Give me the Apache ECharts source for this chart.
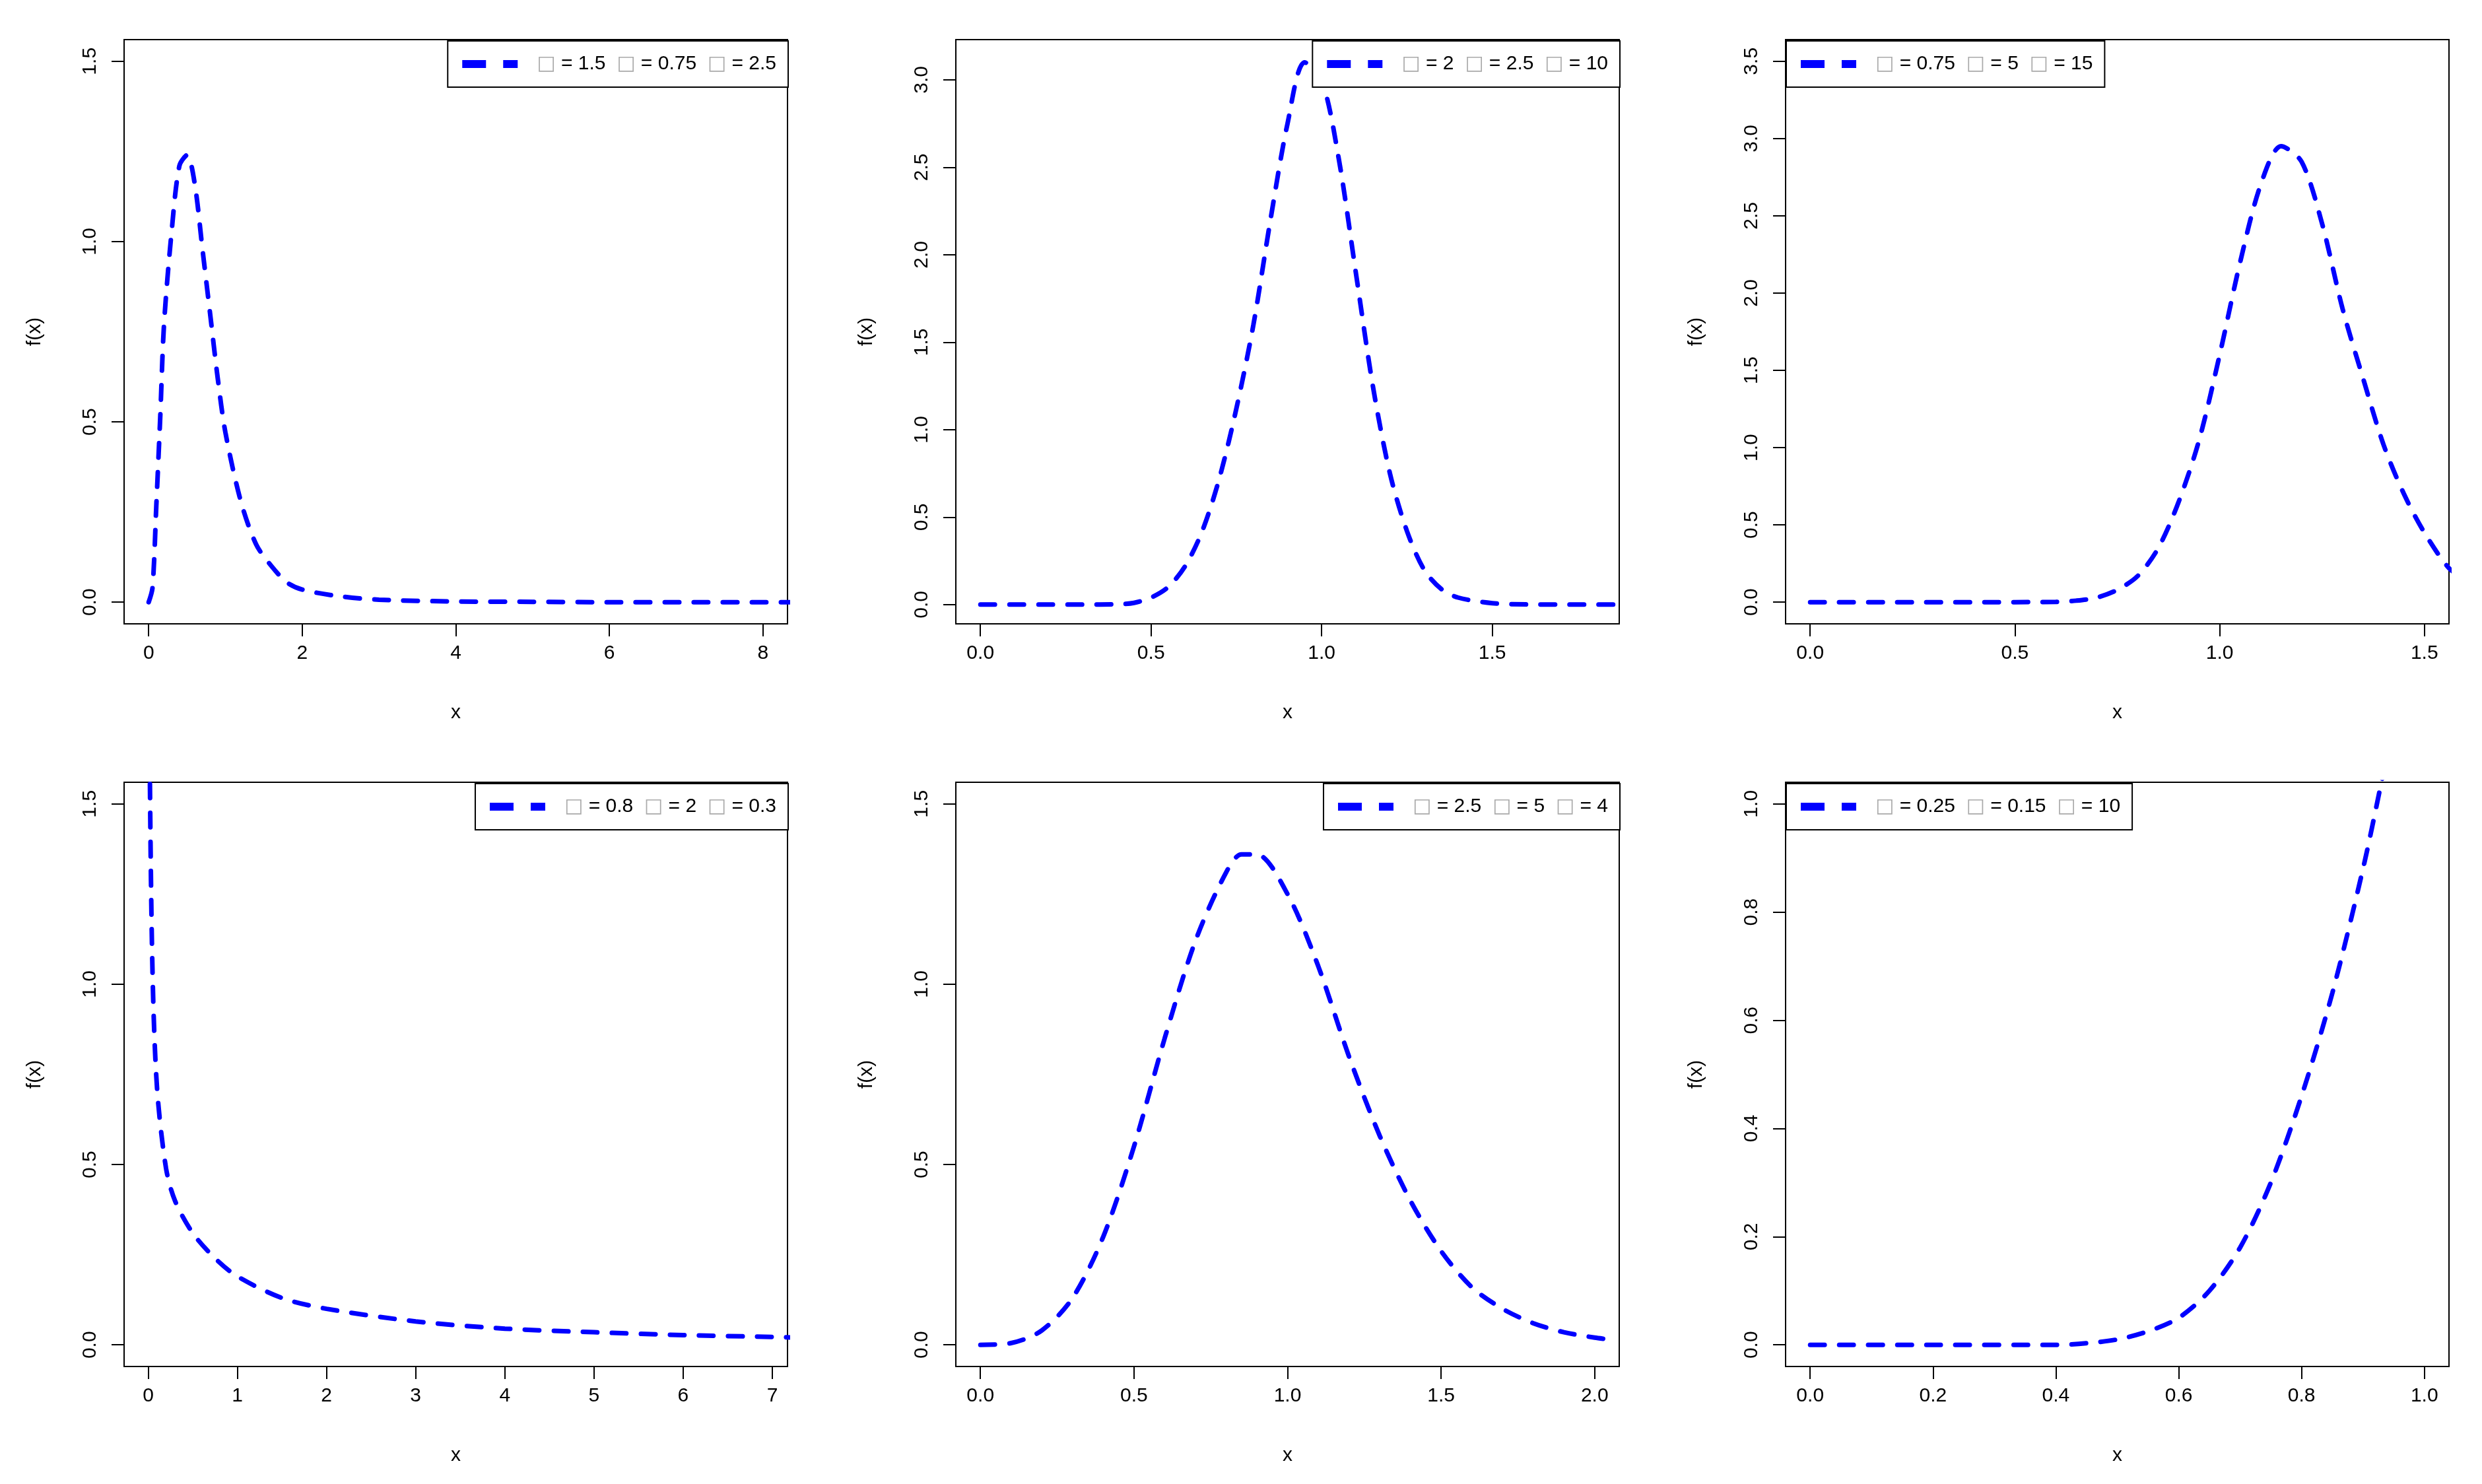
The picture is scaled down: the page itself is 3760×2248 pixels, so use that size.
<!DOCTYPE html>
<html>
<head>
<meta charset="utf-8">
<script src="https://cdn.jsdelivr.net/npm/echarts@6/dist/echarts.min.js"></script>
<style>
  html, body { margin: 0; padding: 0; background: #fff; }
  #chart { width: 3760px; height: 2248px; }
</style>
</head>
<body>
<div id="chart"></div>
<script>
// 各面板的数据
const x1 = [0, 0.05, 0.1, 0.15, 0.2, 0.3, 0.4, 0.5, 0.6, 0.7, 0.8, 0.9, 1.0, 1.2, 1.4, 1.6, 1.8, 2.0, 2.5, 3, 4, 5, 6, 7, 8, 8.4]
const y1 = [0, 0.04, 0.27, 0.51, 0.77, 1.03, 1.21, 1.24, 1.16, 0.98, 0.8, 0.62, 0.47, 0.28, 0.16, 0.1, 0.055, 0.035, 0.016, 0.007, 0.002, 0.001, 0, 0, 0, 0]
const x2 = [0, 0.1, 0.2, 0.3, 0.4, 0.45, 0.5, 0.55, 0.6, 0.65, 0.7, 0.75, 0.8, 0.85, 0.9, 0.95, 1.0, 1.05, 1.1, 1.15, 1.2, 1.25, 1.3, 1.35, 1.4, 1.5, 1.6, 1.7, 1.8, 1.9]
const y2 = [0, 0, 0, 0, 0.002, 0.01, 0.04, 0.1, 0.22, 0.42, 0.72, 1.12, 1.6, 2.2, 2.75, 3.1, 3.0, 2.55, 1.9, 1.25, 0.75, 0.42, 0.2, 0.09, 0.04, 0.008, 0.001, 0, 0, 0]
const x3 = [0, 0.2, 0.4, 0.6, 0.65, 0.7, 0.75, 0.8, 0.85, 0.9, 0.95, 1.0, 1.05, 1.1, 1.15, 1.2, 1.25, 1.3, 1.35, 1.4, 1.45, 1.5, 1.56, 1.6]
const y3 = [0, 0, 0, 0.002, 0.01, 0.03, 0.08, 0.17, 0.35, 0.65, 1.05, 1.6, 2.2, 2.7, 2.95, 2.85, 2.45, 1.9, 1.45, 1.02, 0.7, 0.45, 0.22, 0.15]
const x4 = [0.005, 0.02, 0.05, 0.1, 0.2, 0.3, 0.5, 0.75, 1, 1.5, 2, 3, 4, 5, 6, 7, 7.3]
const y4 = [2.2, 1.55, 1.02, 0.71, 0.49, 0.4, 0.31, 0.24, 0.19, 0.13, 0.1, 0.065, 0.045, 0.035, 0.027, 0.022, 0.02]
const x5 = [0, 0.1, 0.2, 0.3, 0.4, 0.5, 0.6, 0.7, 0.8, 0.85, 0.9, 1.0, 1.1, 1.2, 1.3, 1.4, 1.5, 1.6, 1.7, 1.8, 1.9, 2.0, 2.05]
const y5 = [0, 0.005, 0.04, 0.13, 0.3, 0.55, 0.85, 1.12, 1.31, 1.36, 1.36, 1.25, 1.05, 0.8, 0.58, 0.4, 0.26, 0.16, 0.1, 0.06, 0.035, 0.02, 0.015]
const x6 = [0, 0.2, 0.4, 0.45, 0.5, 0.55, 0.6, 0.65, 0.7, 0.75, 0.8, 0.85, 0.9, 0.93, 0.95]
const y6 = [0, 0, 0, 0.003, 0.01, 0.025, 0.05, 0.1, 0.18, 0.3, 0.46, 0.65, 0.88, 1.04, 1.15]

// 图例里的参数值（原图希腊字母显示为方框）
const legendVals = [
  ['1.5', '0.75', '2.5'],
  ['2', '2.5', '10'],
  ['0.75', '5', '15'],
  ['0.8', '2', '0.3'],
  ['2.5', '5', '4'],
  ['0.25', '0.15', '10']
]

// 坐标轴范围与刻度
const xRanges = [[-0.32, 8.32, 2], [-0.072, 1.872, 0.5], [-0.06, 1.56, 0.5], [-0.27, 7.17, 1], [-0.08, 2.08, 0.5], [-0.04, 1.04, 0.2]]
const yRanges = [[-0.06, 1.56, 0.5], [-0.11, 3.23, 0.5], [-0.14, 3.64, 0.5], [-0.06, 1.56, 0.5], [-0.06, 1.56, 0.5], [-0.04, 1.04, 0.2]]
const legendLeft = [false, false, true, false, false, true]

const xs = [x1, x2, x3, x4, x5, x6]
const ys = [y1, y2, y3, y4, y5, y6]

const colLeft = [188, 1448, 2705]
const rowTop = [60, 1185]
const W = 1005, H = 885
const font = 'Liberation Sans'

function tickVals(r) {
  const out = []
  const step = r[2]
  let v = Math.ceil(r[0] / step - 1e-9) * step
  while (v <= r[1] + 1e-9) {
    out.push(Math.round(v * 1000) / 1000)
    v += step
  }
  return out.filter(t => t >= 0)
}

const grids = [], xAxes = [], yAxes = [], series = [], legends = []
for (let i = 0; i < 6; i++) {
  const left = colLeft[i % 3], top = rowTop[Math.floor(i / 3)]
  grids.push({left: left, top: top, width: W, height: H, show: true, borderColor: '#000', borderWidth: 2})
  const tickFmt = (v) => xRanges[i][2] < 1 ? v.toFixed(1) : String(v)
  xAxes.push({
    type: 'value', gridIndex: i, min: xRanges[i][0], max: xRanges[i][1],
    name: 'x', nameLocation: 'middle', nameGap: 120,
    nameTextStyle: {fontFamily: font, fontSize: 30, color: '#000'},
    axisLine: {show: false, onZero: false},
    axisTick: {show: true, length: 19, inside: false, lineStyle: {color: '#000', width: 2},
      customValues: tickVals(xRanges[i])},
    axisLabel: {fontFamily: font, fontSize: 30, color: '#000', margin: 30, customValues: tickVals(xRanges[i]),
      formatter: tickFmt},
    splitLine: {show: false}
  })
  yAxes.push({
    type: 'value', gridIndex: i, min: yRanges[i][0], max: yRanges[i][1],
    name: 'f(x)', nameLocation: 'middle', nameGap: 120, nameRotate: 90,
    nameTextStyle: {fontFamily: font, fontSize: 30, color: '#000'},
    axisLine: {show: false, onZero: false},
    axisTick: {show: true, length: 19, lineStyle: {color: '#000', width: 2}, customValues: tickVals(yRanges[i])},
    axisLabel: {fontFamily: font, fontSize: 30, color: '#000', rotate: 90, margin: 36,
      customValues: tickVals(yRanges[i]), formatter: (v) => v.toFixed(1)},
    splitLine: {show: false}
  })
  const name = 'curve' + i
  series.push({
    name: name, type: 'line', xAxisIndex: i, yAxisIndex: i,
    data: xs[i].map((x, k) => [x, ys[i][k]]),
    smooth: 0.3, showSymbol: false, symbol: 'none', clip: true,
    lineStyle: {color: '#0000ff', width: 7, type: [22, 22], cap: 'round'},
    itemStyle: {color: '#0000ff'}
  })
  const v = legendVals[i]
  const legend = {
    data: [name], top: top + 2, orient: 'horizontal',
    backgroundColor: '#fff', borderColor: '#000', borderWidth: 2, borderRadius: 0,
    padding: [20, 18, 20, 22], itemWidth: 84, itemHeight: 12,
    icon: 'path://M0,0 L36,0 L36,12 L0,12 Z M62,0 L84,0 L84,12 L62,12 Z',
    itemStyle: {color: '#0000ff'},
    textStyle: {fontFamily: font, fontSize: 30, color: '#000', padding: [0, 0, 0, 24],
      rich: {g: {color: '#aaa', fontSize: 30, fontFamily: 'DejaVu Sans'}}},
    formatter: () => `{g|□} = ${v[0]}  {g|□} = ${v[1]}  {g|□} = ${v[2]}`
  }
  if (legendLeft[i]) legend.left = left + 1
  else legend.right = 3760 - left - W - 1
  legends.push(legend)
}

const myChart = echarts.init(document.getElementById('chart'))
myChart.setOption({
  animation: false,
  backgroundColor: '#fff',
  grid: grids,
  xAxis: xAxes,
  yAxis: yAxes,
  legend: legends,
  series: series
})
</script>
</body>
</html>
